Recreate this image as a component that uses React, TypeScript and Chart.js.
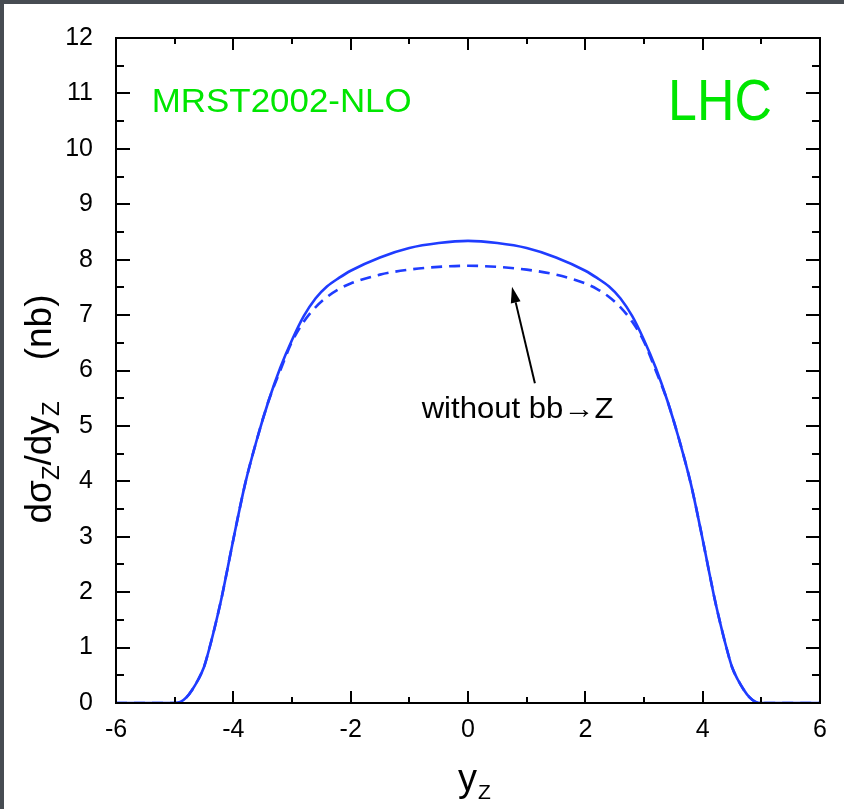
import React, { useEffect, useRef } from "react";
import { Chart, registerables } from "chart.js";

Chart.register(...registerables);

// rapidity y_Z
const rapidity = [
  -6, -5.5, -5, -4.9, -4.8, -4.7, -4.6, -4.5, -4.4, -4.3, -4.2, -4.1, -4.0, -3.8, -3.6, -3.4, -3.2, -3.0,
  -2.8, -2.6, -2.4, -2.2, -2.0, -1.5, -1.0, -0.5, 0, 0.5, 1.0, 1.5, 2.0, 2.2, 2.4, 2.6, 2.8, 3.0, 3.2,
  3.4, 3.6, 3.8, 4.0, 4.1, 4.2, 4.3, 4.4, 4.5, 4.6, 4.7, 4.8, 4.9, 5, 5.5, 6,
];

// dσ/dy (nb), full calculation
const sigmaFull = [
  0, 0, 0, 0.02, 0.1, 0.24, 0.42, 0.65, 1.02, 1.44, 1.9, 2.42, 2.95, 3.95, 4.75, 5.45, 6.05, 6.55,
  6.98, 7.3, 7.52, 7.67, 7.8, 8.04, 8.21, 8.3, 8.34, 8.3, 8.21, 8.04, 7.8, 7.67, 7.52, 7.3, 6.98, 6.55, 6.05,
  5.45, 4.75, 3.95, 2.95, 2.42, 1.9, 1.44, 1.02, 0.65, 0.42, 0.24, 0.1, 0.02, 0, 0, 0,
];

// dσ/dy (nb), without bb -> Z
const sigmaNoBB = [
  0, 0, 0, 0.02, 0.1, 0.24, 0.42, 0.65, 1.02, 1.44, 1.9, 2.42, 2.95, 3.95, 4.75, 5.45, 6.0, 6.52,
  6.88, 7.14, 7.33, 7.47, 7.57, 7.73, 7.82, 7.87, 7.89, 7.87, 7.82, 7.73, 7.57, 7.47, 7.33, 7.14, 6.88, 6.52, 6.0,
  5.45, 4.75, 3.95, 2.95, 2.42, 1.9, 1.44, 1.02, 0.65, 0.42, 0.24, 0.1, 0.02, 0, 0, 0,
];

const xTickValues = [-6, -4, -2, 0, 2, 4, 6];
const yTickValues = [0, 1, 2, 3, 4, 5, 6, 7, 8, 9, 10, 11, 12];

const FONT = '"Liberation Sans", Arial, Helvetica, sans-serif';
const BLUE = "#1f3cff";
const GREEN = "#00e600";

function fitText(ctx: any, text: string, x: number, y: number, targetW: number) {
  const w = ctx.measureText(text).width;
  const k = targetW / w;
  ctx.save();
  ctx.translate(x, y);
  ctx.scale(k, 1);
  ctx.fillText(text, 0, 0);
  ctx.restore();
}

const decorPlugin = {
  id: "decor",
  beforeDraw(chart: any) {
    const { ctx, width, height } = chart;
    ctx.save();
    ctx.fillStyle = "#474c52";
    ctx.fillRect(0, 0, width, height);
    ctx.fillStyle = "#ffffff";
    ctx.fillRect(4, 4, width - 4, height - 4);
    ctx.restore();
  },
  afterDatasetsDraw(chart: any) {
    const { ctx } = chart;
    const xs = chart.scales.x;
    const ys = chart.scales.y;
    ctx.save();
    // green labels
    ctx.fillStyle = GREEN;
    ctx.textBaseline = "alphabetic";
    ctx.textAlign = "left";
    ctx.font = `34px ${FONT}`;
    const mx = xs.getPixelForValue(-5.39);
    fitText(ctx, "MRST2002-NLO", mx, ys.getPixelForValue(10.66), xs.getPixelForValue(-0.96) - mx);
    ctx.font = `58px ${FONT}`;
    const lx = xs.getPixelForValue(3.41);
    fitText(ctx, "LHC", lx, ys.getPixelForValue(10.52), xs.getPixelForValue(5.18) - lx);

    // annotation text
    ctx.fillStyle = "#000";
    ctx.font = `29px ${FONT}`;
    ctx.textAlign = "left";
    const ax = xs.getPixelForValue(-0.79);
    fitText(ctx, "without bb\u2192Z", ax, ys.getPixelForValue(5.14), xs.getPixelForValue(2.48) - ax);

    // arrow
    const tx = xs.getPixelForValue(1.14), ty = ys.getPixelForValue(5.77);
    const hx = xs.getPixelForValue(0.75), hy = ys.getPixelForValue(7.51);
    const ang = Math.atan2(hy - ty, hx - tx);
    const headLen = 16, headW = 5;
    const bx = hx - headLen * Math.cos(ang), by = hy - headLen * Math.sin(ang);
    ctx.strokeStyle = "#000";
    ctx.lineWidth = 2;
    ctx.beginPath();
    ctx.moveTo(tx, ty);
    ctx.lineTo(bx, by);
    ctx.stroke();
    ctx.beginPath();
    ctx.moveTo(hx, hy);
    ctx.lineTo(bx + headW * Math.sin(ang), by - headW * Math.cos(ang));
    ctx.lineTo(bx - headW * Math.sin(ang), by + headW * Math.cos(ang));
    ctx.closePath();
    ctx.fillStyle = "#000";
    ctx.fill();
    ctx.restore();
  },
  afterDraw(chart: any) {
    const { ctx, chartArea } = chart;
    const { left, right, top, bottom } = chartArea;
    const xs = chart.scales.x;
    const ys = chart.scales.y;
    ctx.save();
    ctx.strokeStyle = "#000";
    ctx.lineWidth = 2;
    ctx.strokeRect(left, top, right - left, bottom - top);
    ctx.beginPath();
    for (let v = 0; v <= 12.001; v += 0.5) {
      const major = Math.abs(v - Math.round(v)) < 1e-6;
      const len = major ? 14 : 8;
      const py = Math.round(ys.getPixelForValue(v));
      ctx.moveTo(left, py);
      ctx.lineTo(left + len, py);
      ctx.moveTo(right, py);
      ctx.lineTo(right - len, py);
    }
    for (let v = -6; v <= 6; v += 1) {
      const major = v % 2 === 0;
      const len = major ? 12 : 6;
      const px = Math.round(xs.getPixelForValue(v));
      ctx.moveTo(px, bottom);
      ctx.lineTo(px, bottom - len);
      ctx.moveTo(px, top);
      ctx.lineTo(px, top + len);
    }
    ctx.stroke();

    // axis titles with subscripts
    ctx.fillStyle = "#000";
    ctx.textBaseline = "alphabetic";
    ctx.textAlign = "left";
    // x title
    ctx.font = `38px ${FONT}`;
    const yW = ctx.measureText("y").width;
    const cx = (left + right) / 2;
    const sx = 458;
    ctx.fillText("y", sx, 791);
    ctx.font = `21px ${FONT}`;
    ctx.fillText("Z", sx + yW + 1, 799);
    void cx;

    // y title
    const parts = [
      { t: "d\u03c3", s: 37, d: 0 },
      { t: "Z", s: 24, d: 8 },
      { t: "/dy", s: 37, d: 0 },
      { t: "Z", s: 24, d: 8 },
      { t: "    (nb)", s: 37, d: 0 },
    ];
    let total = 0;
    const widths = parts.map((p) => {
      ctx.font = `${p.s}px ${FONT}`;
      const w = ctx.measureText(p.t).width;
      total += w;
      return w;
    });
    ctx.translate(51, 409);
    ctx.rotate(-Math.PI / 2);
    let pos = -total / 2;
    parts.forEach((p, i) => {
      ctx.font = `${p.s}px ${FONT}`;
      ctx.fillText(p.t, pos, p.d);
      pos += widths[i];
    });
    ctx.restore();
  },
};

export default function App() {
  const ref = useRef<HTMLCanvasElement>(null);
  useEffect(() => {
    document.body.style.margin = "0";
    const full = rapidity.map((x, i) => ({ x, y: sigmaFull[i] }));
    const noBB = rapidity.map((x, i) => ({ x, y: sigmaNoBB[i] }));
    const chart = new Chart(ref.current as HTMLCanvasElement, {
      type: "line",
      data: {
        datasets: [
          {
            label: "full",
            data: full,
            borderColor: BLUE,
            borderWidth: 2.6,
            pointRadius: 0,
            fill: false,
            cubicInterpolationMode: "monotone",
          },
          {
            label: "without bb->Z",
            data: noBB,
            borderColor: BLUE,
            borderWidth: 2.6,
            borderDash: [11, 7],
            pointRadius: 0,
            fill: false,
            cubicInterpolationMode: "monotone",
          },
        ],
      },
      options: {
        responsive: false,
        animation: false,
        layout: { padding: { left: 0, top: 38, right: 24, bottom: 0 } },
        plugins: { legend: { display: false }, tooltip: { enabled: false }, title: { display: false } },
        scales: {
          x: {
            type: "linear",
            min: -6,
            max: 6,
            grid: { display: false },
            border: { display: false },
            afterBuildTicks: (s: any) => {
              s.ticks = xTickValues.map((v) => ({ value: v }));
            },
            afterFit: (s: any) => {
              s.height = 106;
            },
            ticks: {
              color: "#000",
              font: { family: FONT, size: 25 },
              padding: 4,
              maxRotation: 0,
              autoSkip: false,
            },
          },
          y: {
            type: "linear",
            min: 0,
            max: 12,
            grid: { display: false },
            border: { display: false },
            afterBuildTicks: (s: any) => {
              s.ticks = yTickValues.map((v) => ({ value: v }));
            },
            afterFit: (s: any) => {
              s.width = 116;
            },
            ticks: {
              color: "#000",
              font: { family: FONT, size: 25 },
              padding: 15,
              autoSkip: false,
            },
          },
        },
      },
      plugins: [decorPlugin],
    } as any);
    return () => chart.destroy();
  }, []);
  return (
    <div style={{ width: 844, height: 809 }}>
      <canvas ref={ref} width={844} height={809} style={{ display: "block" }} />
    </div>
  );
}
